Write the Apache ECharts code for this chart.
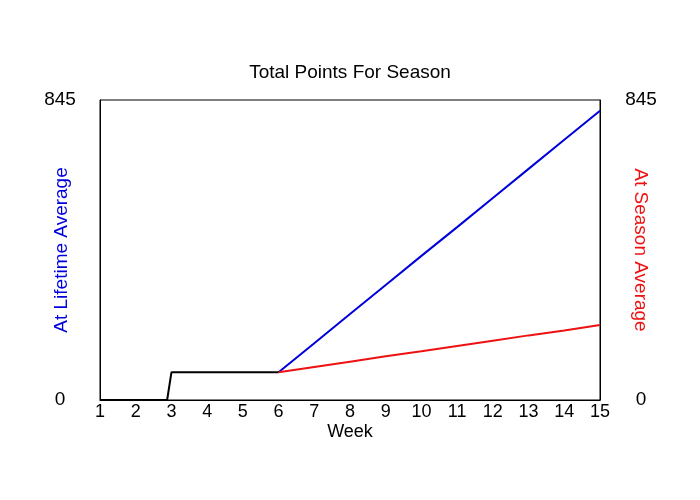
<!DOCTYPE html>
<html>
<head>
<meta charset="utf-8">
<script src="https://cdn.jsdelivr.net/npm/echarts@6/dist/echarts.min.js"></script>
<style>
    html, body { margin: 0; padding: 0; background: #fff; }
    #chart { width: 700px; height: 500px; }
</style>
</head>
<body>
<div id="chart"></div>
<script>
// black: actual points so far (week, points)
var actualWeeks = [1, 2, 2.88, 3, 4, 5, 6];
var actualPoints = [0, 0, 0, 78, 78, 78, 78];

// projections from week 6 onward
var projWeeks = [6, 7, 8, 9, 10, 11, 12, 13, 14, 15];
var lifetimePoints = [78, 160, 242, 324, 406, 487, 569, 651, 733, 815];
var seasonPoints = [78, 93, 108, 123, 137, 152, 167, 182, 196, 211];

var yMax = 845;
var fontFam = 'Liberation Sans, Arial, sans-serif';

function pairs(xs, ys) {
    var d = [];
    for (var i = 0; i < xs.length; i++) {
        d.push([xs[i], ys[i]]);
    }
    return d;
}

var chart = echarts.init(document.getElementById('chart'));

var option = {
    animation: false,
    backgroundColor: '#fff',
    title: {
        text: 'Total Points For Season',
        left: 'center',
        top: 58,
        textStyle: {fontFamily: fontFam, fontSize: 19, fontWeight: 'normal', color: '#000'}
    },
    grid: {
        left: 100, right: 100, top: 100, bottom: 100,
        show: true, borderColor: '#000', borderWidth: 1
    },
    xAxis: {
        type: 'value',
        min: 1, max: 15, interval: 1,
        name: 'Week',
        nameLocation: 'middle',
        nameGap: 23,
        nameMoveOverlap: false,
        nameTextStyle: {fontFamily: fontFam, fontSize: 18, color: '#000'},
        axisLine: {show: true, lineStyle: {color: '#000', width: 1}},
        axisTick: {show: false},
        splitLine: {show: false},
        axisLabel: {fontFamily: fontFam, fontSize: 18, color: '#000', margin: 3}
    },
    yAxis: [{
            type: 'value',
            position: 'left',
            min: 0, max: yMax, interval: yMax,
            name: 'At Lifetime Average',
            nameLocation: 'middle',
            nameGap: 29,
            nameMoveOverlap: false,
            nameTextStyle: {fontFamily: fontFam, fontSize: 19, color: '#0000dd'},
            axisLine: {show: true, lineStyle: {color: '#000', width: 1}},
            axisTick: {show: false},
            splitLine: {show: false},
            axisLabel: {fontFamily: fontFam, fontSize: 19, color: '#000', margin: 40, align: 'center'}
        }, {
            type: 'value',
            position: 'right',
            min: 0, max: yMax, interval: yMax,
            name: 'At Season Average',
            nameLocation: 'middle',
            nameGap: 31,
            nameRotate: -90,
            nameMoveOverlap: false,
            nameTextStyle: {fontFamily: fontFam, fontSize: 19, color: '#ee1111'},
            axisLine: {show: true, lineStyle: {color: '#000', width: 1}},
            axisTick: {show: false},
            splitLine: {show: false},
            axisLabel: {fontFamily: fontFam, fontSize: 19, color: '#000', margin: 41, align: 'center'}
        }],
    series: [{
            name: 'lifetime',
            type: 'line',
            yAxisIndex: 0,
            showSymbol: false,
            lineStyle: {color: '#0000dd', width: 2},
            data: pairs(projWeeks, lifetimePoints)
        }, {
            name: 'season',
            type: 'line',
            yAxisIndex: 1,
            showSymbol: false,
            lineStyle: {color: '#ee1111', width: 2},
            data: pairs(projWeeks, seasonPoints)
        }, {
            name: 'actual',
            type: 'line',
            yAxisIndex: 0,
            showSymbol: false,
            lineStyle: {color: '#000', width: 2},
            data: pairs(actualWeeks, actualPoints)
        }]
};

chart.setOption(option);
</script>
</body>
</html>
